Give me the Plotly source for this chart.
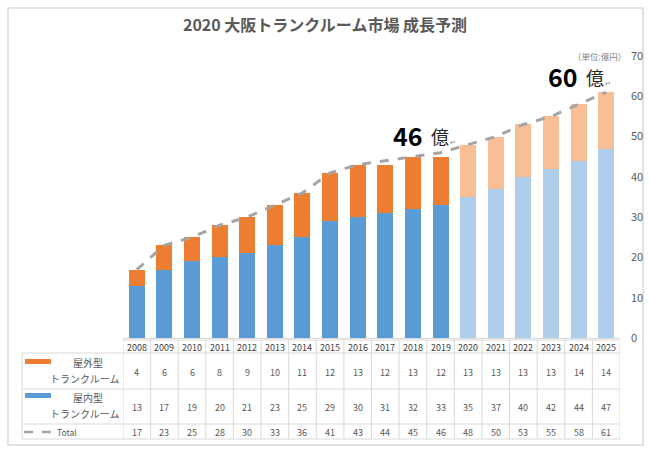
import plotly.graph_objects as go

years = [str(y) for y in range(2008, 2026)]
outdoor = [4, 6, 6, 8, 9, 10, 11, 12, 13, 12, 13, 12, 13, 13, 13, 13, 14, 14]
indoor = [13, 17, 19, 20, 21, 23, 25, 29, 30, 31, 32, 33, 35, 37, 40, 42, 44, 47]
total = [17, 23, 25, 28, 30, 33, 36, 41, 43, 44, 45, 46, 48, 50, 53, 55, 58, 61]
n_actual = 12  # 2008-2019 actual, 2020-2025 forecast

title_text = "2020 大阪トランクルーム市場 成長予測"
outdoor_label = ["屋外型", "トランクルーム"]
indoor_label = ["屋内型", "トランクルーム"]
total_label = "Total"
unit_text = "（単位:億円）"
callouts = [("46", "億", 11), ("60", "億", 17)]

C_OUT = "#ED7D31"
C_OUT_L = "#F8BE96"
C_IN = "#5B9BD5"
C_IN_L = "#AECDEA"
C_LINE = "#A5A5A5"
TXT = "#595959"
GRID = "#D9D9D9"
JP = "Noto Sans CJK JP"

W, H = 650, 451
L, R, T, B = 123, 620, 56, 338  # plot area in pixels


def px(x):
    return (x - L) / (R - L)


def py(y):
    return (B - y) / (B - T)


in_colors = [C_IN if i < n_actual else C_IN_L for i in range(len(years))]
out_colors = [C_OUT if i < n_actual else C_OUT_L for i in range(len(years))]

fig = go.Figure()
fig.add_trace(go.Bar(x=years, y=indoor, marker=dict(color=in_colors, line=dict(width=0)),
                     name="屋内型トランクルーム"))
fig.add_trace(go.Bar(x=years, y=outdoor, marker=dict(color=out_colors, line=dict(width=0)),
                     name="屋外型トランクルーム"))
fig.add_trace(go.Scatter(x=years, y=total, mode="lines",
                         line=dict(color=C_LINE, width=3, dash="dash"), name="Total"))

shapes = []
annotations = []

# outer border
shapes.append(dict(type="rect", xref="paper", yref="paper", x0=px(8), x1=px(643),
                   y0=py(445), y1=py(8), line=dict(color=GRID, width=1.5), layer="below"))

# table grid
row_y = [340, 353, 389, 424, 439]
for k in range(len(years) + 1):
    shapes.append(dict(type="line", xref="x", yref="paper", x0=k - 0.5, x1=k - 0.5,
                       y0=py(340), y1=py(439), line=dict(color=GRID, width=1)))
shapes.append(dict(type="line", xref="paper", yref="paper", x0=0, x1=1,
                   y0=py(340), y1=py(340), line=dict(color=GRID, width=1)))
for yy in row_y[1:]:
    shapes.append(dict(type="line", xref="paper", yref="paper", x0=px(22), x1=1,
                       y0=py(yy), y1=py(yy), line=dict(color=GRID, width=1)))
shapes.append(dict(type="line", xref="paper", yref="paper", x0=px(22), x1=px(22),
                   y0=py(353), y1=py(439), line=dict(color=GRID, width=1)))

# legend keys
shapes.append(dict(type="rect", xref="paper", yref="paper", x0=px(25), x1=px(51),
                   y0=py(364), y1=py(359), fillcolor=C_OUT, line=dict(width=0)))
shapes.append(dict(type="rect", xref="paper", yref="paper", x0=px(25), x1=px(51),
                   y0=py(398), y1=py(393), fillcolor=C_IN, line=dict(width=0)))
shapes.append(dict(type="line", xref="paper", yref="paper", x0=px(24), x1=px(51),
                   y0=py(432), y1=py(432), line=dict(color=C_LINE, width=2.5, dash="dash")))

small = dict(family=JP, size=9, color=TXT)
leg_font = dict(family=JP, size=10, color=TXT)


def note(x, y, text, font, xanchor="center", xref="paper"):
    annotations.append(dict(xref=xref, yref="paper", x=x, y=y, text=text, showarrow=False,
                            xanchor=xanchor, yanchor="middle", font=font))


# legend texts
note(px(88), py(362), outdoor_label[0], leg_font)
note(px(121), py(378), outdoor_label[1], leg_font, xanchor="right")
note(px(88), py(397), indoor_label[0], leg_font)
note(px(121), py(413), indoor_label[1], leg_font, xanchor="right")
note(px(55), py(432), total_label, dict(family=JP, size=8.5, color=TXT), xanchor="left")

# table values
for i, yr in enumerate(years):
    note(i, py(347), yr, dict(family=JP, size=9, color="#404040"), xref="x")
    note(i, py(372), str(outdoor[i]), small, xref="x")
    note(i, py(407), str(indoor[i]), small, xref="x")
    note(i, py(432), str(total[i]), small, xref="x")

# callouts
call_pos = [(391, 135), (546, 76)]
for (num, unit, idx), (cx, cy) in zip(callouts, call_pos):
    note(px(cx), py(cy), "<b>%s</b>" % num, dict(family=JP, size=25, color="#000000"), xanchor="left")
    note(px(cx + 38), py(cy + 1), unit, dict(family=JP, size=18, color="#262626"), xanchor="left")
    note(px(cx + 57), py(cy + 7), "↵", dict(family=JP, size=7, color="#7F7F7F"), xanchor="left")

note(px(628), py(56), unit_text, dict(family=JP, size=8.5, color="#7F7F7F"), xanchor="right")

fig.update_layout(
    width=W, height=H,
    margin=dict(l=L, r=W - R, t=T, b=H - B, autoexpand=False),
    paper_bgcolor="white", plot_bgcolor="white",
    barmode="stack", bargap=0.42, showlegend=False,
    title=dict(text="<b>%s</b>" % title_text, x=325 / W, xref="container", y=1 - 25 / H,
               xanchor="center", yanchor="middle",
               font=dict(family=JP, size=16, color=TXT)),
    xaxis=dict(type="category", showticklabels=False, showline=True, linecolor=GRID, ticks="",
               showgrid=False, zeroline=False, range=[-0.5, len(years) - 0.5]),
    yaxis=dict(side="right", range=[0, 70], dtick=10, showgrid=False, zeroline=False,
               showline=False, ticks="", ticklabelstandoff=10,
               tickfont=dict(family=JP, size=11, color=TXT)),
    shapes=shapes, annotations=annotations,
    font=dict(family=JP),
)

fig.write_html("out.html", config={"displayModeBar": False},
               post_script="document.body.style.margin='0';document.body.style.padding='0';")
